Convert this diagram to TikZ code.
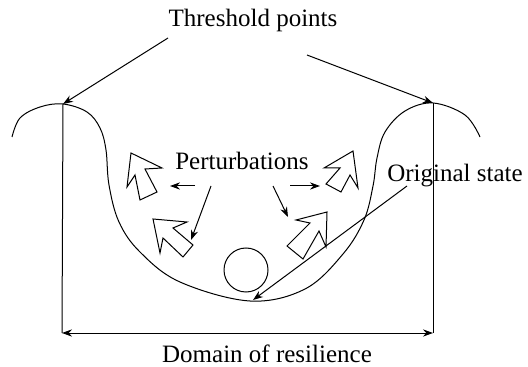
\documentclass[tikz,border=0pt]{standalone}
\usepackage{fontspec}
\setmainfont{Liberation Serif}
\usetikzlibrary{arrows.meta}

\begin{document}
\begin{tikzpicture}[x=0.5pt, y=-0.5pt, line width=0.5pt,
    lbl/.style={font=\fontsize{12.5}{15}\selectfont, inner sep=0pt, anchor=base},
    pointer/.style={-{Stealth[length=5pt, width=3.6pt]}},
    bigarrow/.style={draw, line join=miter}
  ]
  \useasboundingbox (0,0) rectangle (528,367);

  % Landscape
  \draw plot[smooth, tension=0.6] coordinates {(12,137) (20,118) (40,107) (63,104) (87,112) (100,128)
    (106,150) (109,185) (119,222) (140,252) (180,282) (250,301) (305,289) (343,254)
    (364,220) (373,186) (377,158) (385,132) (405,111) (433,103) (465,115) (480,137)};

  \coordinate (lpeak) at (63,104);
  \coordinate (rpeak) at (433,103);
  \coordinate (lbase) at (62,333);
  \coordinate (rbase) at (433,333);
  \coordinate (bottom) at (253,300);

  % Ball
  \node[draw, circle, minimum size=22pt, inner sep=0pt] (ball) at (246,270) {};

  % Labels
  \node[lbl] (thr) at (253,27) {Threshold points};
  \node[lbl] (pert) at (242,170) {Perturbations};
  \node[lbl] (orig) at (455,182) {Original state};
  \node[lbl] (dom) at (267,362) {Domain of resilience};

  % Threshold points
  \coordinate (thr1) at (168,38);
  \coordinate (thr2) at (307,55);
  \draw[pointer] (thr1) -- (lpeak);
  \draw[pointer] (thr2) -- (rpeak);

  % Domain of resilience
  \draw (lpeak) -- (lbase);
  \draw (rpeak) -- (rbase);
  \draw[{Stealth[length=5pt, width=3.6pt]}-{Stealth[length=5pt, width=3.6pt]}] (lbase) -- (rbase);

  % Original state
  \coordinate (orig1) at (407,186);
  \draw[pointer] (orig1) -- (bottom);

  % Perturbations
  \coordinate (p1) at (195,186);
  \coordinate (p1e) at (170,186);
  \coordinate (p2) at (211,186);
  \coordinate (p2e) at (191,240);
  \coordinate (p3) at (273,186);
  \coordinate (p3e) at (288,217);
  \coordinate (p4) at (290,186);
  \coordinate (p4e) at (320,186);
  \draw[pointer] (p1) -- (p1e);
  \draw[pointer] (p2) -- (p2e);
  \draw[pointer] (p3) -- (p3e);
  \draw[pointer] (p4) -- (p4e);

  % Hollow arrows
  \draw[bigarrow] (131,153) -- (127,187) -- (135,175) -- (140,200) -- (157,192) -- (145,169) -- (162,168) -- cycle;
  \draw[bigarrow] (153,219) -- (187,222) -- (173,228) -- (193,245) -- (183,257) -- (163,238) -- (160,253) -- cycle;
  \draw[bigarrow] (353,151) -- (324,168) -- (340,168) -- (326,184) -- (341,192) -- (350,175) -- (358,188) -- cycle;
  \draw[bigarrow] (327,212) -- (296,220) -- (310,223) -- (287,246) -- (303,259) -- (319,231) -- (326,247) -- cycle;
\end{tikzpicture}
\end{document}
